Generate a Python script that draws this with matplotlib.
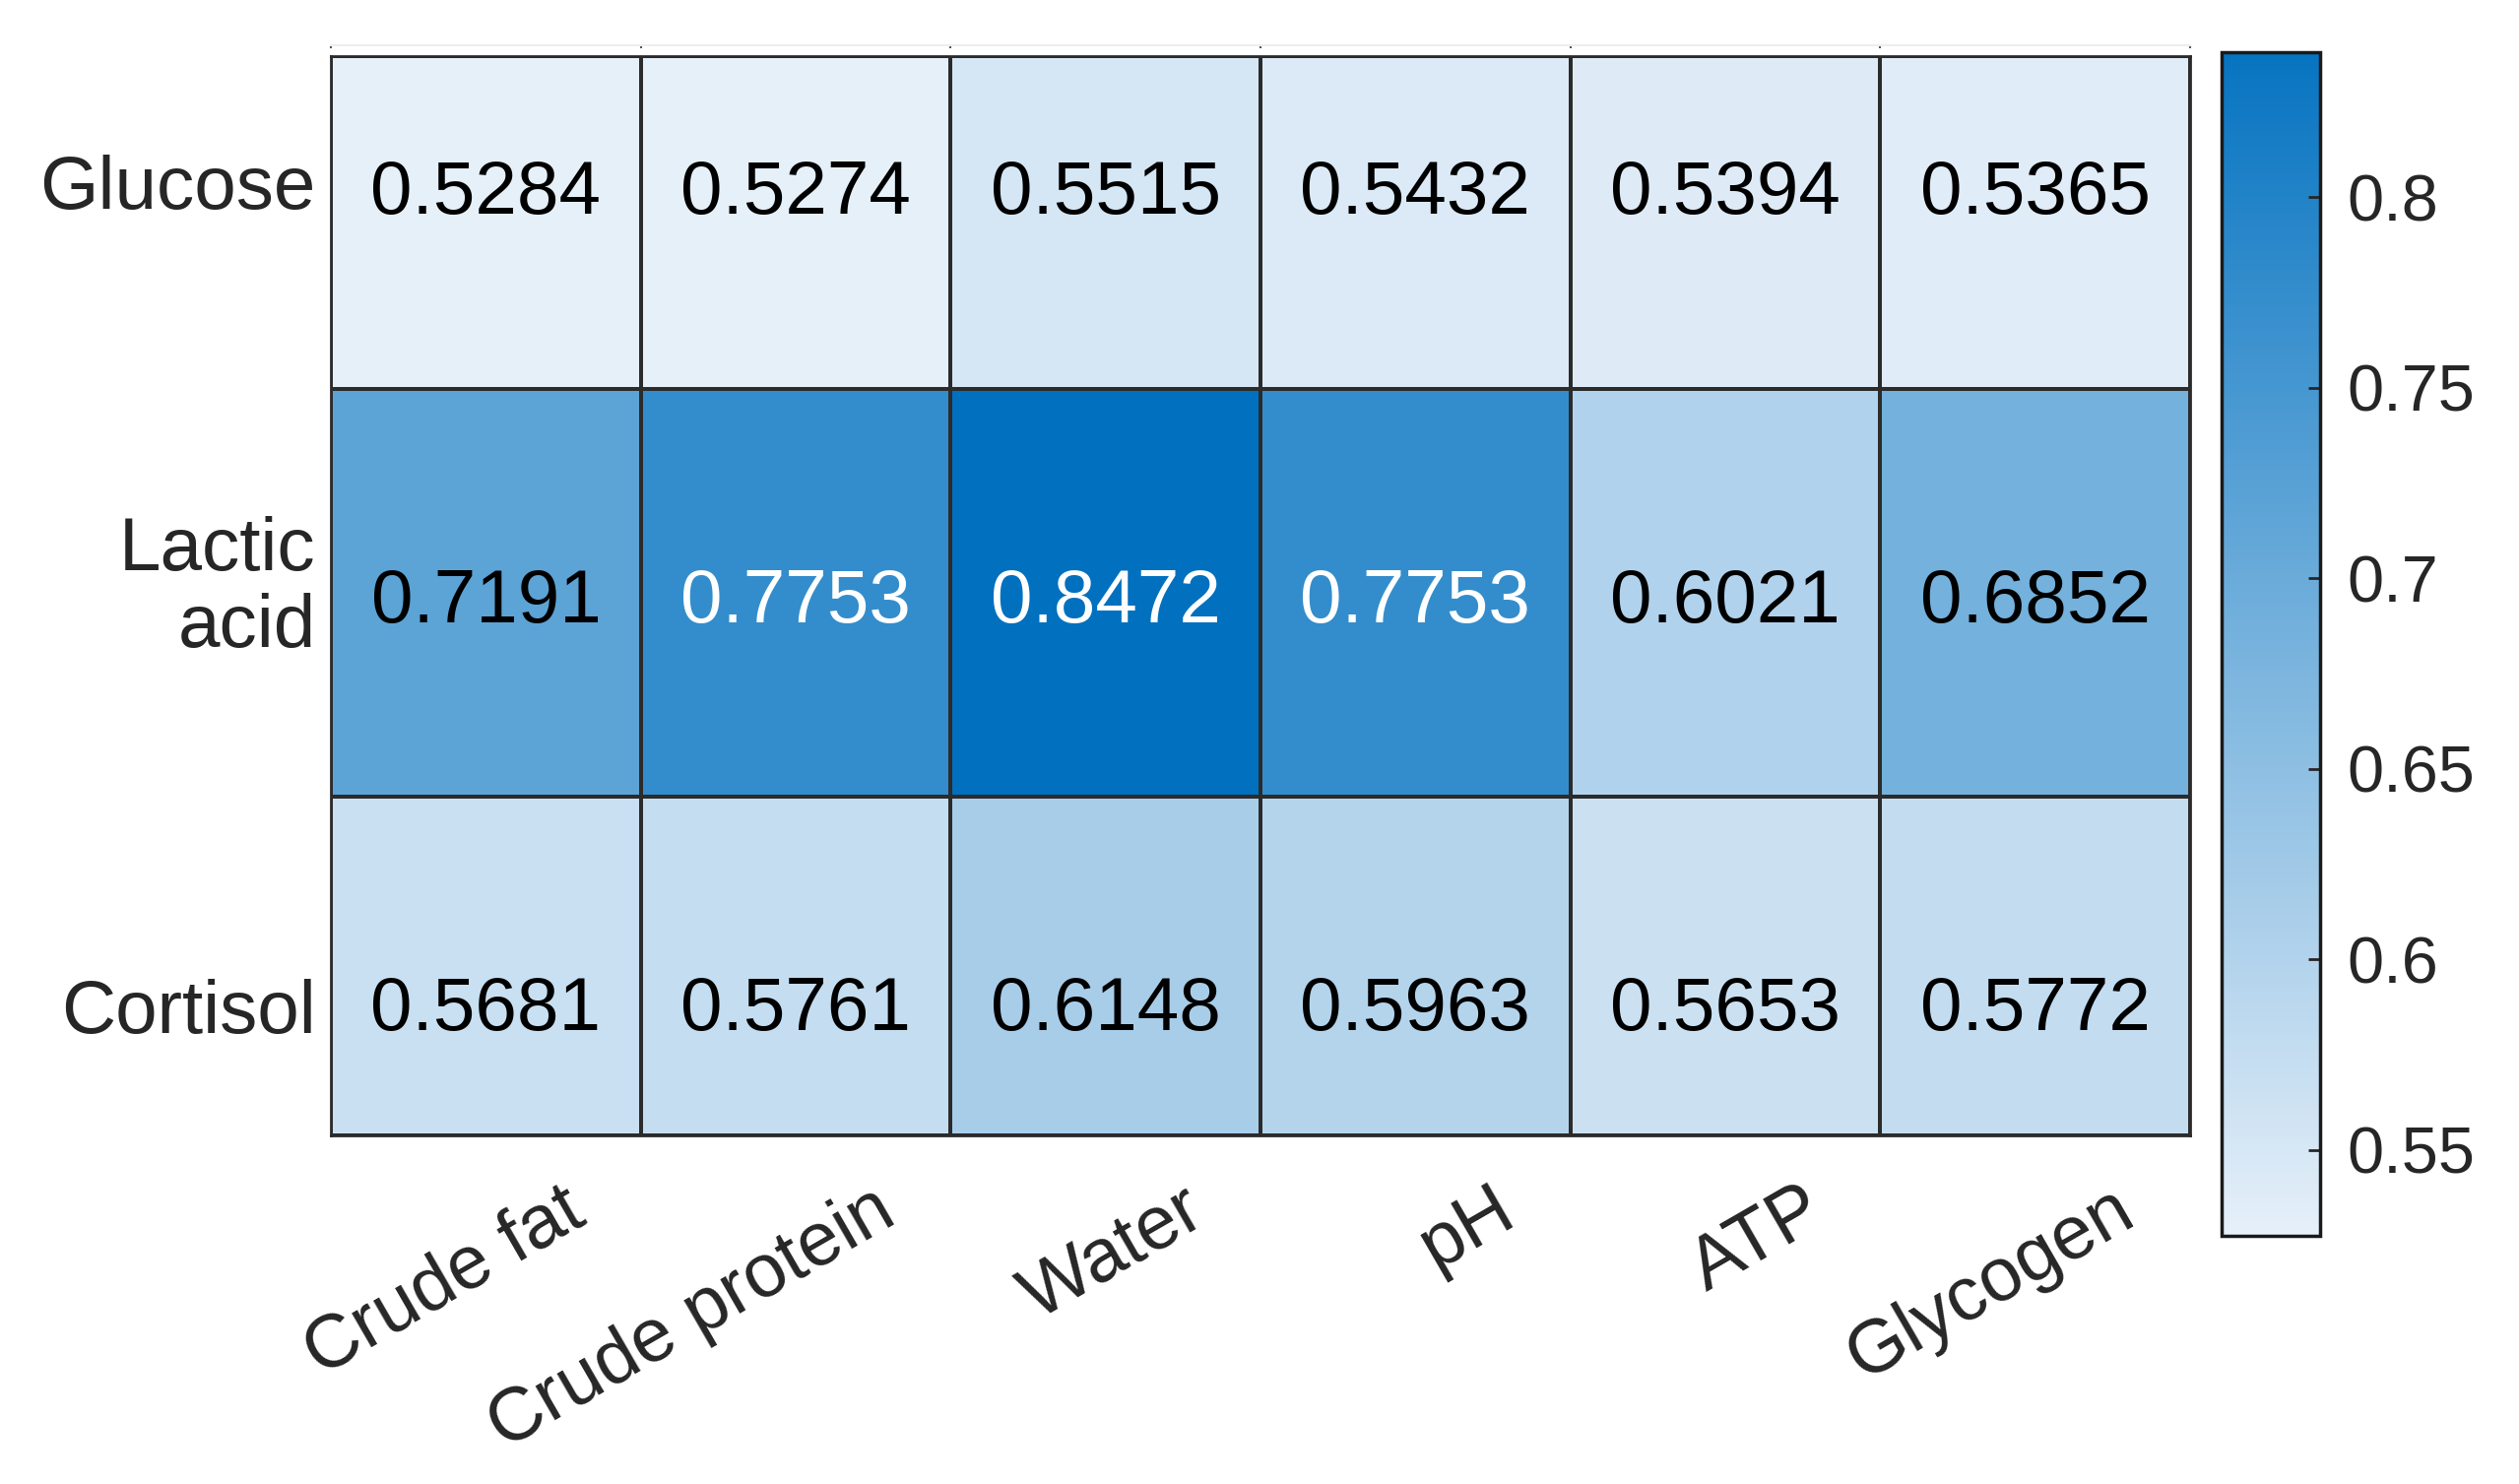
import numpy as np
import matplotlib
matplotlib.use("Agg")
import matplotlib.pyplot as plt
import matplotlib.transforms as mtransforms
from matplotlib.colors import LinearSegmentedColormap, Normalize

# Datos del mapa de calor
rows = ["Glucose", "Lactic\nacid", "Cortisol"]
cols = ["Crude fat", "Crude protein", "Water", "pH", "ATP", "Glycogen"]
glucose = [0.5284, 0.5274, 0.5515, 0.5432, 0.5394, 0.5365]
lactic_acid = [0.7191, 0.7753, 0.8472, 0.7753, 0.6021, 0.6852]
cortisol = [0.5681, 0.5761, 0.6148, 0.5963, 0.5653, 0.5772]
cbar_ticks = [0.55, 0.6, 0.65, 0.7, 0.75, 0.8]

# Disposicion (fracciones del eje, de arriba a abajo)
row_edges = [0.0, 0.308, 0.686, 1.0]
row_text = [0.1285, 0.5065, 0.8845]
row_label = [0.116, 0.4836, 0.88]

plt.rcParams['font.family'] = ['Liberation Sans', 'DejaVu Sans']

values = np.array([glucose, lactic_acid, cortisol])
vmin, vmax = values.min(), values.max()
cmap = LinearSegmentedColormap.from_list("sky", ["#E6F0F9", "#0070BF"])
norm = Normalize(vmin=vmin, vmax=vmax)

fig = plt.figure(figsize=(25.58, 15.07), dpi=100)
ax = fig.add_axes([0.1314, 0.2349, 0.738, 0.7273])

x_edges = np.arange(len(cols) + 1)
ax.pcolormesh(x_edges, row_edges, values, cmap=cmap, norm=norm,
              edgecolors="#2b2b2b", linewidth=1.6)
ax.set_xlim(0, len(cols))
ax.set_ylim(1, 0)

for i in range(values.shape[0]):
    for j in range(values.shape[1]):
        v = values[i, j]
        frac = (v - vmin) / (vmax - vmin)
        color = "white" if frac > 0.7 else "black"
        ax.text(j + 0.5, row_text[i], f"{v:.4f}", ha="center", va="center",
                fontsize=55, color=color)

ax.set_yticks(row_label)
ax.set_yticklabels(rows, fontsize=55, color="#262626", linespacing=1.13)
ax.set_xticks(np.arange(len(cols)) + 0.5)
ax.set_xticklabels(cols, fontsize=55, color="#262626", rotation=30,
                   ha="right", va="center", rotation_mode="anchor")
ax.tick_params(axis="both", length=0)
ax.tick_params(axis="y", pad=11)
ax.tick_params(axis="x", pad=51)
offset = mtransforms.ScaledTranslation(68 / 72, 0, fig.dpi_scale_trans)
for lab in ax.get_xticklabels():
    lab.set_transform(lab.get_transform() + offset)
for s in ax.spines.values():
    s.set_color("#2b2b2b")
    s.set_linewidth(2)

# linea tenue superior con marcas en los bordes de columna
top = ax.secondary_xaxis(1.01)
top.set_xticks(x_edges)
top.set_xticklabels([])
top.tick_params(length=2, width=1.5, color="#555555", direction="in")
top.spines["top"].set_color("#eeeeee")
top.spines["top"].set_linewidth(1.5)

# Barra de color
cax = fig.add_axes([0.8819, 0.1672, 0.0391, 0.7976])
cb = fig.colorbar(plt.cm.ScalarMappable(norm=norm, cmap=cmap), cax=cax)
cb.set_ticks(cbar_ticks)
cb.set_ticklabels([f"{t:g}" for t in cbar_ticks])
cax.set_ylim(vmin, 0.838)
cax.tick_params(direction="in", length=9, width=2, pad=20,
                labelsize=48, color="#262626", labelcolor="#262626")
cb.outline.set_linewidth(2.5)
cb.outline.set_edgecolor("#1a1a1a")

fig.savefig("out.png", dpi=100, facecolor="white")
